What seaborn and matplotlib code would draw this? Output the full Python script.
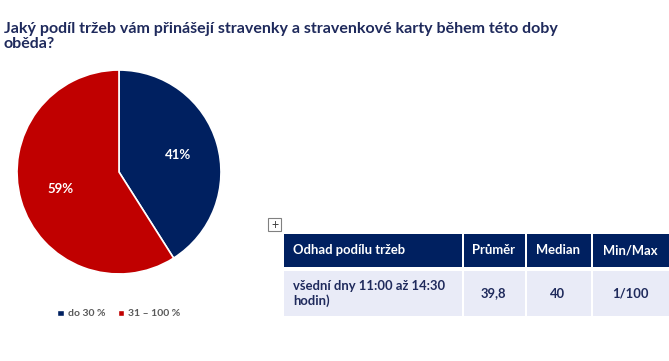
import matplotlib
matplotlib.use("Agg")
import matplotlib.pyplot as plt
from matplotlib.patches import Rectangle, Patch
import seaborn as sns

# data
categories = ["do 30 %", "31 – 100 %"]
shares = [41, 59]
title = "Jaký podíl tržeb vám přinášejí stravenky a stravenkové karty během této doby\noběda?"
table_header = ["Odhad podílu tržeb", "Průměr", "Median", "Min/Max"]
table_row = ["všední dny 11:00 až 14:30\nhodin)", "39,8", "40", "1/100"]

navy = "#002060"
red = "#C00000"
title_color = "#1F2A5C"

sns.set_theme(style="white")
plt.rcParams["font.family"] = ["Lato", "DejaVu Sans"]

fig = plt.figure(figsize=(6.69, 3.61), dpi=100)
W, H = 669, 361

# overlay axis in pixel coordinates for title and table
bg = fig.add_axes([0, 0, 1, 1])
bg.set_xlim(0, W)
bg.set_ylim(H, 0)
bg.axis("off")

bg.text(4, 22, title, fontsize=11.5, fontweight="bold", color=title_color,
        va="top", ha="left", linespacing=1.12)

# pie
cx, cy, r = 119, 172, 103
ax = fig.add_axes([(cx - r) / W, (H - cy - r) / H, 2 * r / W, 2 * r / H])
colors = sns.color_palette([navy, red])
wedges, _, autotexts = ax.pie(shares, colors=colors, startangle=90, counterclock=False,
                              autopct=lambda p: f"{round(p):d}%", pctdistance=0.6,
                              wedgeprops=dict(edgecolor="white", linewidth=1.2))
for t in autotexts:
    t.set_color("white")
    t.set_fontweight("bold")
    t.set_fontsize(9.5)
ax.set_xlim(-1.01, 1.01)
ax.set_ylim(-1.01, 1.01)

handles = [Patch(facecolor=c, label=l) for c, l in zip(colors, categories)]
fig.legend(handles=handles, loc="center", bbox_to_anchor=(119 / W, 1 - 314 / H), ncol=2,
           frameon=False, handlelength=0.6, handleheight=0.6,
           handletextpad=0.4, columnspacing=1.2, labelcolor="#595959",
           prop={"weight": "bold", "size": 7.5})

# table
col_x = [284, 462, 525, 591, 669]
hdr_y = (234, 267)
row_y = (271, 316)
gap = 1.5
fs = 9.4
for i in range(4):
    x0, x1 = col_x[i], col_x[i + 1]
    g = gap if i else 0
    bg.add_patch(Rectangle((x0 + g, hdr_y[0]), x1 - x0 - g, hdr_y[1] - hdr_y[0],
                           facecolor=navy, edgecolor="none"))
    bg.add_patch(Rectangle((x0 + g, row_y[0]), x1 - x0 - g, row_y[1] - row_y[0],
                           facecolor="#E9EBF7", edgecolor="none"))
    if i == 0:
        tx, ha = x0 + 9, "left"
    else:
        tx, ha = (x0 + x1) / 2, "center"
    bg.text(tx, sum(hdr_y) / 2, table_header[i], color="white", fontsize=fs,
            fontweight="bold", va="center", ha=ha)
    bg.text(tx, sum(row_y) / 2, table_row[i], color=title_color, fontsize=fs,
            fontweight="bold", va="center", ha=ha, linespacing=1.2)

# small move handle icon
bg.add_patch(Rectangle((268, 218), 13, 13, facecolor="white", edgecolor="#808080", linewidth=0.8))
bg.text(274.5, 224.5, "+", fontsize=9, color="#404040", ha="center", va="center")

fig.savefig("out.png", dpi=100)
